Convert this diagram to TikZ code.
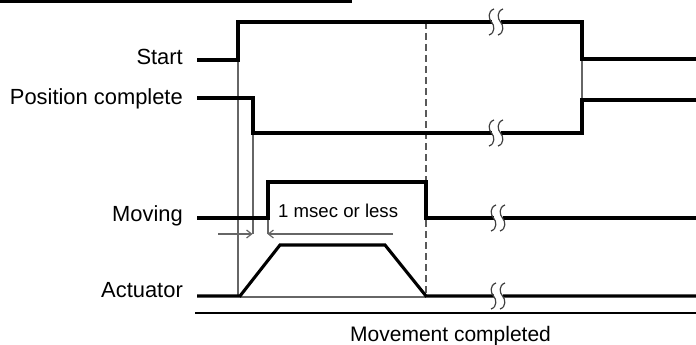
\documentclass[tikz,border=0pt]{standalone}
\usepackage{fontspec}
\setmainfont{Liberation Sans}
\usetikzlibrary{arrows.meta}
\tikzset{
  sig/.style={line width=3.1pt, black, line join=miter},
  thin/.style={line width=1.2pt, black!60},
  lbl/.style={anchor=base east, inner sep=0pt, font=\fontsize{21.9}{24}\selectfont},
  brkline/.style={line width=1.2pt, black!75},
  brk/.pic={
    \fill[white] (-4.5,-3.6) rectangle (4.5,3.6);
    \foreach \d in {-4.5,4.5}{
      \draw[brkline] (\d+2.5,-13) .. controls (\d-4,-11) and (\d-3,-3) .. (\d,0)
        .. controls (\d+3,3) and (\d+4,11) .. (\d-2.5,13);
    }
  }
}
\begin{document}
\begin{tikzpicture}[x=1pt,y=-1pt]
\useasboundingbox (0,0) rectangle (696,345);
% header rule
\draw[line width=3pt] (0,1.3) -- (352,1.3);
% labels
\node[lbl] (lstart) at (183,65) {Start};
\node[lbl] (lpos) at (183,104) {Position complete};
\node[lbl] (lmov) at (183,221) {Moving};
\node[lbl] (lact) at (183,297) {Actuator};
% thin guide lines
\draw[thin] (238,60) -- (238,296);
\draw[thin] (253,133) -- (253,234);
\draw[thin] (268,218) -- (268,234);
\draw[thin] (582,59) -- (582,100);
\draw[thin] (240,297) -- (426,297);
\draw[thin, black!65, line width=1.4pt, dash pattern=on 7pt off 4pt] (426,22) -- (426,296);
% timing arrows
\coordinate (a1) at (218,234);
\coordinate (a2) at (252.5,234);
\coordinate (b1) at (393,234);
\coordinate (b2) at (267.5,234);
\draw[thin, -{Straight Barb[length=5pt,width=8pt]}] (a1) -- (a2);
\draw[thin, -{Straight Barb[length=5pt,width=8pt]}] (b1) -- (b2);
\node[anchor=base west, inner sep=0pt, font=\fontsize{18.6}{22}\selectfont] (msec) at (278,217) {1 msec or less};
% signals
\draw[sig] (197,60) -- (238,60) -- (238,22) -- (582,22) -- (582,59) -- (696,59);
\draw[sig] (197,98) -- (253,98) -- (253,133) -- (582,133) -- (582,100) -- (696,100);
\draw[sig] (197,218) -- (268,218) -- (268,182) -- (426,182) -- (426,218) -- (696,218);
\draw[sig] (197,296) -- (240,296) -- (280,245) -- (385,245) -- (426,296) -- (696,296);
% breaks
\pic at (496,22) {brk};
\pic at (496,133) {brk};
\pic at (498,218) {brk};
\pic at (498,296) {brk};
% bottom rule and caption
\draw[line width=2.6pt] (195,313) -- (696,313);
\node[anchor=base west, inner sep=0pt, font=\fontsize{21}{24}\selectfont] (cap) at (350,341) {Movement completed};
\end{tikzpicture}
\end{document}
